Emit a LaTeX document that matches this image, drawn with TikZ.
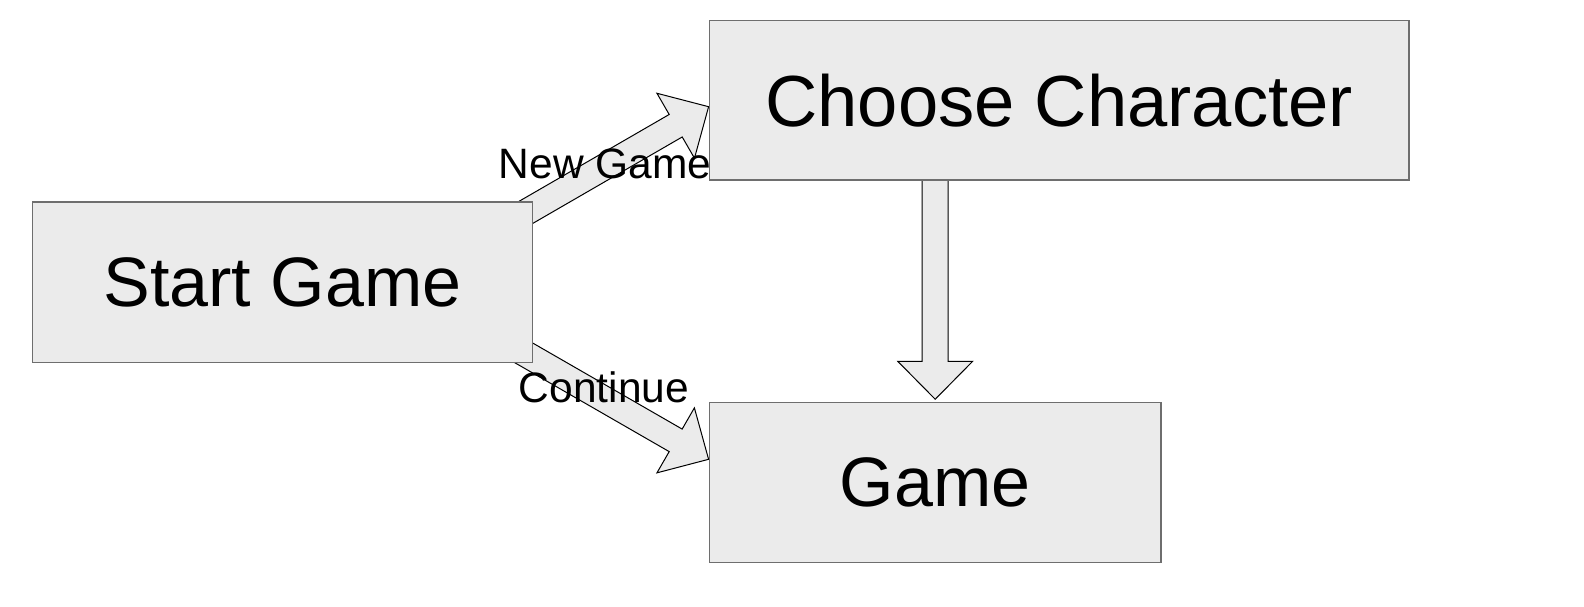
\documentclass[tikz,border=0pt]{standalone}
\usepackage{fontspec}
\setmainfont{Liberation Sans}
\usetikzlibrary{positioning}
\usetikzlibrary{calc}
\usetikzlibrary{backgrounds}

\definecolor{boxgrey}{HTML}{EBEBEB}
\definecolor{edgegrey}{HTML}{6E6E6E}

\tikzset{
  screen/.style={draw=edgegrey, line width=0.75pt, fill=boxgrey, inner sep=0pt,
    font=\fontsize{35}{42}\selectfont},
  flow/.style={draw=black, line width=0.5pt, fill=boxgrey, line join=miter},
  choice/.style={font=\fontsize{21.25}{25}\selectfont, inner sep=0pt}
}

% block arrow from tail #1 to tip #2
\newcommand\blockarrow[2]{%
  \coordinate (hb) at ($(#2)!19pt!(#1)$);
  \draw[flow] ($(#1)!6.5pt!90:(#2)$) -- ($(hb)!6.5pt!-90:(#1)$)
    -- ($(hb)!18.75pt!-90:(#1)$) -- (#2) -- ($(hb)!18.75pt!90:(#1)$)
    -- ($(hb)!6.5pt!90:(#1)$) -- ($(#1)!6.5pt!-90:(#2)$) -- cycle;
}

\begin{document}
\begin{tikzpicture}[node distance=2cm,on grid]
  \useasboundingbox (-141.25pt,-161.85pt) rectangle (650.75pt,141.15pt);
  \node[screen, minimum width=249.75pt, minimum height=80.25pt] (start) {Start Game};
  \node[screen, minimum width=349.85pt, minimum height=79.75pt,
    font=\fontsize{36.2}{43}\selectfont] (choose) [above right=91pt and 388.35pt of start] {Choose Character};
  \node[screen, minimum width=225.85pt, minimum height=80pt] (game) [below right=100.2pt and 326.35pt of start] {Game};

  \coordinate (ng_tail) at ($(start.east)+(-11.1pt,30.6pt)$);
  \coordinate (ng_tip) at ($(choose.west)+(0,-3.2pt)$);
  \coordinate (ct_tail) at ($(start.east)+(-11.1pt,-31.55pt)$);
  \coordinate (ct_tip) at ($(game.west)+(0,11.7pt)$);
  \coordinate (cg_tail) at ($(game.north |- choose.south)+(0,5pt)$);
  \coordinate (cg_tip) at ($(game.north)+(0,1.35pt)$);

  \begin{pgfonlayer}{background}
    \blockarrow{ng_tail}{ng_tip}
    \blockarrow{ct_tail}{ct_tip}
    \blockarrow{cg_tail}{cg_tip}
  \end{pgfonlayer}

  \node[choice] (ng) at (161.25pt,59.15pt) {New Game};
  \node[choice] (ct) at (160.75pt,-52.35pt) {Continue};
\end{tikzpicture}
\end{document}
